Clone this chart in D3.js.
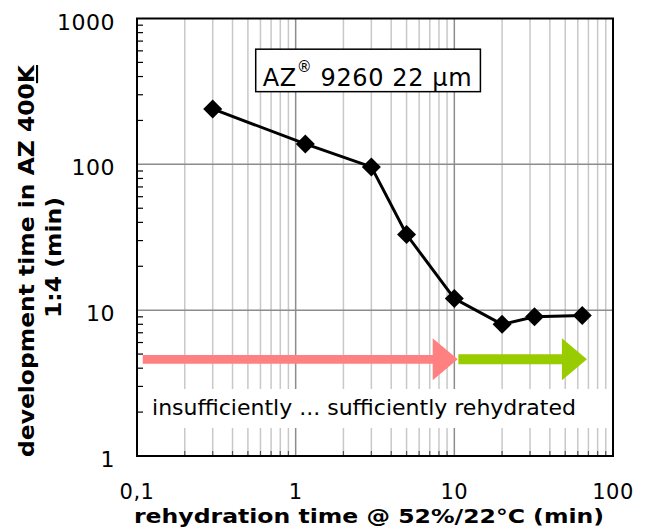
<!DOCTYPE html>
<html>
<head>
<meta charset="utf-8">
<script src="https://cdn.jsdelivr.net/npm/d3@7"></script>
<style>
body { margin: 0; background: #fff; }
text { font-family: "DejaVu Sans", Verdana, sans-serif; }
</style>
</head>
<body>
<div id="chart"></div>
<script>
// rehydration time (min) vs development time (min)
const rehydration = [0.3, 1.15, 3, 5, 10, 20, 32, 64];
const devTime = [240, 138, 96, 33, 12, 8, 9, 9.2];

const xTicks = [0.1, 1, 10, 100];
const xTickLabels = ['0,1', '1', '10', '100'];
const yTicks = [1, 10, 100, 1000];
const yTickLabels = ['1', '10', '100', '1000'];

// annotation arrows: from, to (x in min), at y
const arrowFrom = [0.1087, 10.6];
const arrowTo = [10.5, 68.5];
const arrowColors = ['#ff8080', '#99cc00'];
const arrowY = 4.6;

const W = 645, H = 529;
const M = { left: 137, right: 32, top: 18.5, bottom: 73 };

const svg = d3.select('#chart').append('svg')
	.attr('width', W)
	.attr('height', H);

const x = d3.scaleLog().domain([0.1, 100]).range([M.left, W - M.right]);
const y = d3.scaleLog().domain([1, 1000]).range([H - M.bottom, M.top]);

const minorX = [];
const minorY = [];
[0.1, 1, 10].forEach(d => {
	for (let k = 2; k <= 9; k++) minorX.push(d * k);
});
[1, 10, 100].forEach(d => {
	for (let k = 2; k <= 9; k++) minorY.push(d * k);
});

// vertical grid
const grid = svg.append('g');
grid.selectAll('line.minor')
	.data(minorX)
	.enter().append('line')
	.attr('x1', d => x(d)).attr('x2', d => x(d))
	.attr('y1', y(1)).attr('y2', y(1000))
	.attr('stroke', '#c8c8c8')
	.attr('stroke-width', 1.5);
grid.selectAll('line.major')
	.data([1, 10])
	.enter().append('line')
	.attr('x1', d => x(d)).attr('x2', d => x(d))
	.attr('y1', y(1)).attr('y2', y(1000))
	.attr('stroke', '#8c8c8c')
	.attr('stroke-width', 1.5);
grid.selectAll('line.hmajor')
	.data([10, 100])
	.enter().append('line')
	.attr('x1', x(0.1)).attr('x2', x(100))
	.attr('y1', d => y(d)).attr('y2', d => y(d))
	.attr('stroke', '#8c8c8c')
	.attr('stroke-width', 1.5);

// white band behind the bottom label
svg.append('rect')
	.attr('x', x(0.1) + 1)
	.attr('width', x(100) - x(0.1) - 2)
	.attr('y', y(2.88))
	.attr('height', y(1.556) - y(2.88))
	.attr('fill', '#fff');

// minor ticks (inside)
svg.append('g').selectAll('line')
	.data(minorY)
	.enter().append('line')
	.attr('x1', x(0.1)).attr('x2', x(0.1) + 6)
	.attr('y1', d => y(d)).attr('y2', d => y(d))
	.attr('stroke', '#000')
	.attr('stroke-width', 1.2);
svg.append('g').selectAll('line')
	.data(minorX)
	.enter().append('line')
	.attr('x1', d => x(d)).attr('x2', d => x(d))
	.attr('y1', y(1)).attr('y2', y(1) - 5)
	.attr('stroke', '#555')
	.attr('stroke-width', 1.2);

// frame
svg.append('rect')
	.attr('x', x(0.1)).attr('y', y(1000))
	.attr('width', x(100) - x(0.1))
	.attr('height', y(1) - y(1000))
	.attr('fill', 'none')
	.attr('stroke', '#000')
	.attr('stroke-width', 2);

// tick labels
svg.append('g').selectAll('text')
	.data(yTicks)
	.enter().append('text')
	.attr('x', 115)
	.attr('y', d => y(d) + 11)
	.attr('text-anchor', 'end')
	.attr('font-size', 22)
	.attr('letter-spacing', 0.5)
	.text((d, i) => yTickLabels[i]);
svg.append('g').selectAll('text')
	.data(xTicks)
	.enter().append('text')
	.attr('x', d => x(d))
	.attr('y', y(1) + 43)
	.attr('text-anchor', 'middle')
	.attr('font-size', 21)
	.attr('letter-spacing', 0.5)
	.text((d, i) => xTickLabels[i]);

// axis titles
svg.append('text')
	.attr('x', 134)
	.attr('y', 523)
	.attr('font-size', 20)
	.attr('font-weight', 'bold')
	.attr('textLength', 470)
	.attr('lengthAdjust', 'spacingAndGlyphs')
	.text('rehydration time @ 52%/22°C (min)');

const yt = svg.append('text')
	.attr('transform', trans(34, 457) + ' rotate(-90)')
	.attr('font-size', 21)
	.attr('font-weight', 'bold')
	.attr('textLength', 392)
	.attr('lengthAdjust', 'spacingAndGlyphs');
yt.append('tspan').text('development time in AZ 400');
yt.append('tspan').attr('text-decoration', 'underline').text('K');
svg.append('text')
	.attr('transform', trans(61, 318) + ' rotate(-90)')
	.attr('font-size', 21)
	.attr('font-weight', 'bold')
	.attr('textLength', 121)
	.attr('lengthAdjust', 'spacingAndGlyphs')
	.text('1:4 (min)');

// arrows
const ay = y(arrowY);
arrowFrom.forEach((from, i) => {
	const x0 = x(from), x1 = x(arrowTo[i]);
	const head = 25, hw = 21, sw = i == 0 ? 4.3 : 5;
	const pts = [
		[x0, ay - sw], [x1 - head, ay - sw], [x1 - head, ay - hw],
		[x1, ay], [x1 - head, ay + hw], [x1 - head, ay + sw], [x0, ay + sw]
	];
	svg.append('path')
		.attr('d', d3.line()(pts) + 'Z')
		.attr('fill', arrowColors[i]);
});

// series line + diamonds
const pts = rehydration.map((d, i) => [x(d), y(devTime[i])]);
svg.append('path')
	.attr('d', d3.line()(pts))
	.attr('fill', 'none')
	.attr('stroke', '#000')
	.attr('stroke-width', 3);
svg.append('g').selectAll('path')
	.data(pts)
	.enter().append('path')
	.attr('d', d => {
		const r = 9.5;
		return 'M' + d[0] + ',' + (d[1] - r) + 'L' + (d[0] + r) + ',' + d[1] +
			'L' + d[0] + ',' + (d[1] + r) + 'L' + (d[0] - r) + ',' + d[1] + 'Z';
	})
	.attr('fill', '#000');

// product label box
const bx0 = x(0.56), bx1 = x(14.6), by0 = y(616), by1 = y(315);
svg.append('rect')
	.attr('x', bx0).attr('y', by0)
	.attr('width', bx1 - bx0).attr('height', by1 - by0)
	.attr('fill', '#fff')
	.attr('stroke', '#000')
	.attr('stroke-width', 1.5);
const lbl = svg.append('text')
	.attr('x', bx0 + 7)
	.attr('y', by1 - 6)
	.attr('font-size', 24)
	.attr('letter-spacing', 0.6);
lbl.append('tspan').text('AZ');
lbl.append('tspan').attr('font-size', 15).attr('dy', -14).text('®');
lbl.append('tspan').attr('dy', 14).text('\u00a09260 22 µm');

svg.append('text')
	.attr('x', 364)
	.attr('y', 415)
	.attr('text-anchor', 'middle')
	.attr('font-size', 22)
	.text('insufficiently ... sufficiently rehydrated');

function trans(tx, ty) {
	return 'translate(' + tx + ',' + ty + ')';
}
</script>
</body>
</html>
